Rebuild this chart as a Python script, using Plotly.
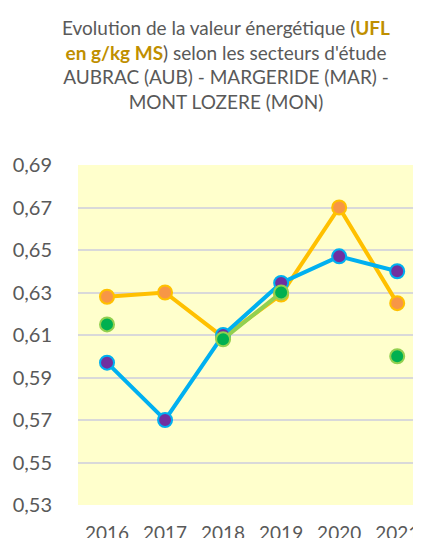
import plotly.graph_objects as go

years = ["2016", "2017", "2018", "2019", "2020", "2021"]
aub = [0.628, 0.630, 0.609, 0.629, 0.670, 0.625]
mar = [0.597, 0.570, 0.610, 0.6345, 0.647, 0.640]
mon = [0.615, None, 0.608, 0.630, None, 0.600]
yticks = [0.53, 0.55, 0.57, 0.59, 0.61, 0.63, 0.65, 0.67, 0.69]
ytext = ["0,53", "0,55", "0,57", "0,59", "0,61", "0,63", "0,65", "0,67", "0,69"]

fig = go.Figure()
fig.add_trace(go.Scatter(x=years, y=aub, name="AUB", mode="lines+markers",
                         line=dict(color="#FFC000", width=4),
                         marker=dict(color="#F79646", size=14, line=dict(color="#FFC000", width=2))))
fig.add_trace(go.Scatter(x=years, y=mar, name="MAR", mode="lines+markers",
                         line=dict(color="#00B0F0", width=4),
                         marker=dict(color="#7030A0", size=14, line=dict(color="#00B0F0", width=2))))
fig.add_trace(go.Scatter(x=years, y=mon, name="MON", mode="lines+markers",
                         line=dict(color="#92D050", width=4),
                         marker=dict(color="#00B050", size=14, line=dict(color="#92D050", width=2))))

title = ("Evolution de la valeur énergétique (<b><span style='color:#BF8F00'>UFL"
         "<br>en g/kg MS</span></b>) selon les secteurs d'étude"
         "<br>AUBRAC (AUB) - MARGERIDE (MAR) -<br>MONT LOZERE (MON)")

W, H = 413, 530
fig.update_layout(
    width=W, height=H,
    margin=dict(l=70, r=0, t=157, b=33),
    paper_bgcolor="white",
    plot_bgcolor="#FFFFCC",
    showlegend=False,
    font=dict(family="Lato", color="#595959"),
    title=dict(text=title, x=218/W, xanchor="center", xref="container",
               y=1 - 27/H, yanchor="top", yref="container",
               font=dict(family="Lato", size=19, color="#595959")),
    xaxis=dict(type="category", range=[-0.5, 5.41], showgrid=False, zeroline=False,
               showline=False, ticks="", ticklabelstandoff=15, automargin=False,
               tickfont=dict(size=19, color="#595959")),
    yaxis=dict(range=[0.53, 0.69], tickvals=yticks, ticktext=ytext, showgrid=True,
               gridcolor="#D9D9D9", gridwidth=1.5, zeroline=False, showline=False,
               ticks="", ticklabelstandoff=25, automargin=False,
               tickfont=dict(size=20, color="#595959")),
)
fig.write_html("out.html")
